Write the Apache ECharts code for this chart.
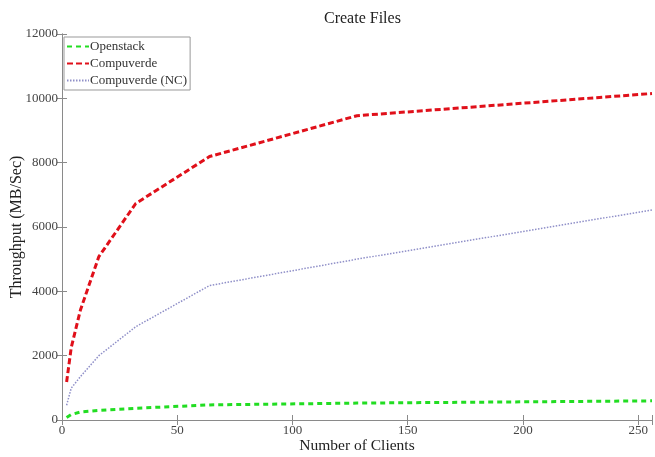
<!DOCTYPE html>
<html>
<head>
<meta charset="utf-8">
<script src="https://cdn.jsdelivr.net/npm/echarts@6/dist/echarts.min.js"></script>
<style>
  html, body { margin: 0; padding: 0; background: #fff; }
  #chart { width: 655px; height: 457px; }
</style>
</head>
<body>
<div id="chart"></div>
<script>
// Number of concurrent clients
const clients = [2, 4, 8, 16, 32, 64, 128, 256];
// Throughput in MB/Sec for each system
const openstack = [80, 170, 250, 300, 365, 470, 525, 595];
const compuverde = [1180, 2250, 3420, 5080, 6730, 8190, 9460, 10150];
const compuverdeNC = [460, 990, 1350, 2000, 2900, 4180, 5000, 6530];

const xTicks = [0, 50, 100, 150, 200, 250];
const yTicks = [0, 2000, 4000, 6000, 8000, 10000, 12000];

const pairs = (ys) => clients.map((c, i) => [c, ys[i]]);

const serif = '"Liberation Serif", "DejaVu Serif", serif';
const axisGray = '#8a8a8a';

const chart = echarts.init(document.getElementById('chart'));
chart.setOption({
  animation: false,
  backgroundColor: '#fff',
  title: {
    text: 'Create Files',
    left: 319,
    top: 6,
    textStyle: { fontFamily: serif, fontSize: 16, fontWeight: 'normal', color: '#222' }
  },
  grid: { left: 62, right: 3, top: 34, bottom: 37, containLabel: false, outerBoundsMode: 'none' },
  legend: {
    orient: 'vertical',
    left: 64,
    top: 37,
    backgroundColor: '#fff',
    borderColor: '#999',
    borderWidth: 1,
    borderRadius: 0,
    padding: [3, 3, 3, 2],
    itemGap: 4,
    itemWidth: 22,
    itemHeight: 12,
    itemStyle: { opacity: 0 },
    textStyle: { fontFamily: serif, fontSize: 13, color: '#333', padding: [0, 0, 0, -4] },
    data: ['Openstack', 'Compuverde', 'Compuverde (NC)']
  },
  xAxis: [
    {
      type: 'value', min: 0, max: 256, interval: 50,
      name: 'Number of Clients', nameLocation: 'middle', nameGap: 18, nameMoveOverlap: false,
      nameTextStyle: { fontFamily: serif, fontSize: 15.5, color: '#222' },
      axisLine: { show: true, lineStyle: { color: axisGray, width: 1 } },
      axisTick: { show: true, inside: true, length: 5, lineStyle: { color: axisGray } },
      axisLabel: {
        fontFamily: serif, fontSize: 13, color: '#444', margin: 4,
        formatter: (v) => (xTicks.includes(v) ? String(v) : '')
      },
      splitLine: { show: false }
    },
    {
      type: 'value', min: 0, max: 256, interval: 50, position: 'top',
      axisLine: { show: true, lineStyle: { color: axisGray, width: 1 } },
      axisTick: { show: true, inside: true, length: 5, lineStyle: { color: axisGray } },
      axisLabel: { show: false },
      splitLine: { show: false }
    }
  ],
  yAxis: [
    {
      type: 'value', min: 0, max: 12000, interval: 2000,
      name: 'Throughput (MB/Sec)', nameLocation: 'middle', nameGap: 37, nameMoveOverlap: false,
      nameTextStyle: { fontFamily: serif, fontSize: 16, color: '#222' },
      axisLine: { show: true, lineStyle: { color: axisGray, width: 1 } },
      axisTick: { show: true, inside: true, length: 5, lineStyle: { color: axisGray } },
      axisLabel: {
        fontFamily: serif, fontSize: 13, color: '#444', margin: 4,
        formatter: (v) => (yTicks.includes(v) ? String(v) : '')
      },
      splitLine: { show: false }
    },
    {
      type: 'value', min: 0, max: 12000, interval: 2000, position: 'right',
      axisLine: { show: true, lineStyle: { color: axisGray, width: 1 } },
      axisTick: { show: true, inside: true, length: 5, lineStyle: { color: axisGray } },
      axisLabel: { show: false },
      splitLine: { show: false }
    }
  ],
  series: [
    {
      name: 'Openstack', type: 'line', data: pairs(openstack),
      symbol: 'none', smooth: false,
      lineStyle: { color: '#22dd22', width: 3, type: [5, 4] },
      itemStyle: { color: '#22dd22' }
    },
    {
      name: 'Compuverde', type: 'line', data: pairs(compuverde),
      symbol: 'none', smooth: false,
      lineStyle: { color: '#e0101a', width: 3, type: [6, 3] },
      itemStyle: { color: '#e0101a' }
    },
    {
      name: 'Compuverde (NC)', type: 'line', data: pairs(compuverdeNC),
      symbol: 'none', smooth: false,
      lineStyle: { color: '#8f8fc8', width: 1.5, type: [1.5, 1.5] },
      itemStyle: { color: '#8f8fc8' }
    }
  ]
});
</script>
</body>
</html>
